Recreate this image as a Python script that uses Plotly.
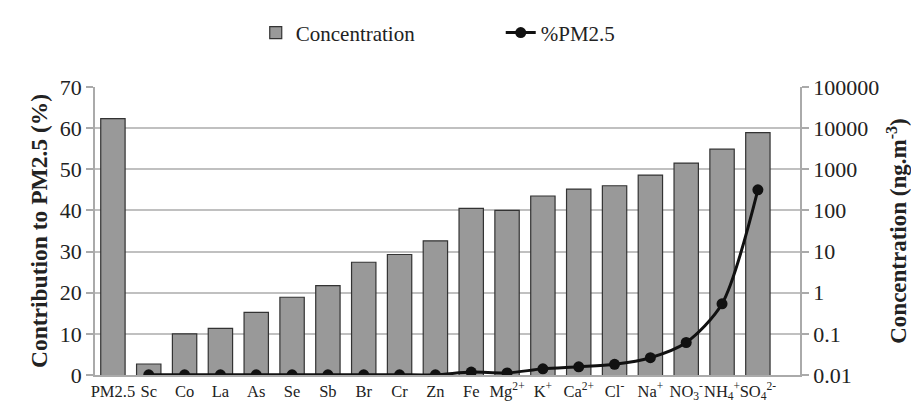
import plotly.graph_objects as go

categories = ["PM2.5", "Sc", "Co", "La", "As", "Se", "Sb", "Br", "Cr", "Zn", "Fe",
              "Mg<sup>2+</sup>", "K<sup>+</sup>", "Ca<sup>2+</sup>", "Cl<sup>-</sup>",
              "Na<sup>+</sup>", "NO<sub>3</sub><sup>-</sup>", "NH<sub>4</sub><sup>+</sup>",
              "SO<sub>4</sub><sup>2-</sup>"]
concentration = [17000, 0.0185, 0.1, 0.136, 0.331, 0.776, 1.48, 5.5, 8.5, 18.2, 112,
                  100, 224, 331, 398, 724, 1413, 3090, 7762]
pct_categories = categories[1:]
pct_pm25 = [0.05, 0.05, 0.05, 0.05, 0.05, 0.05, 0.05, 0.05, 0.05, 0.7,
            0.5, 1.5, 2.0, 2.6, 4.2, 7.9, 17.3, 45.0]
right_ticks = [0.01, 0.1, 1, 10, 100, 1000, 10000, 100000]
right_ticktext = ["0.01", "0.1", "1", "10", "100", "1000", "10000", "100000"]

FONT = "Liberation Serif"
TXT = "#222222"

fig = go.Figure()
fig.add_trace(go.Bar(
    x=categories, y=concentration, name="Concentration",
    marker=dict(color="#999999", line=dict(color="#333333", width=1.2)),
    yaxis="y",
))
fig.add_trace(go.Scatter(
    x=pct_categories, y=pct_pm25, name="%PM2.5", mode="lines+markers",
    line=dict(color="#111111", width=3, shape="spline", smoothing=0.8),
    marker=dict(color="#111111", size=11),
    yaxis="y2",
))

fig.update_layout(
    width=919, height=402,
    margin=dict(l=87, r=127, t=79, b=35, autoexpand=False),
    paper_bgcolor="white", plot_bgcolor="white",
    font=dict(family=FONT, color=TXT, size=18),
    bargap=0.32,
    showlegend=True,
    legend=dict(orientation="h", x=0.228, xanchor="left", y=0.938, yanchor="middle",
                yref="container",
                font=dict(size=21, family=FONT, color=TXT),
                traceorder="normal", entrywidthmode="pixels", entrywidth=200),
    xaxis=dict(
        type="category", showgrid=False, showline=True, linecolor="#aaaaaa",
        linewidth=1.5, ticks="", tickangle=0, automargin=False,
        tickfont=dict(size=16.5, family=FONT, color=TXT),
    ),
    yaxis=dict(
        type="log", side="right", range=[-2, 5], automargin=False,
        tickvals=right_ticks, ticktext=right_ticktext,
        showgrid=True, gridcolor="#c0c0c0", gridwidth=1.5,
        showline=True, linecolor="#aaaaaa", linewidth=1.5,
        ticks="outside", ticklen=7, tickcolor="#aaaaaa", tickwidth=1.5,
        tickfont=dict(size=22, family=FONT, color=TXT),
        title=dict(text="<b>Concentration (ng.m<sup>-3</sup>)</b>",
                   font=dict(size=23, family=FONT, color=TXT), standoff=12),
        zeroline=False,
    ),
    yaxis2=dict(
        overlaying="y", side="left", range=[0, 70], dtick=10, automargin=False,
        showgrid=False, showline=True, linecolor="#aaaaaa", linewidth=1.5,
        ticks="outside", ticklen=7, tickcolor="#aaaaaa", tickwidth=1.5,
        tickfont=dict(size=22, family=FONT, color=TXT),
        title=dict(text="<b>Contribution to PM2.5 (%)</b>",
                   font=dict(size=23.5, family=FONT, color=TXT), standoff=6),
        zeroline=False,
    ),
)

fig.write_html("out.html")
